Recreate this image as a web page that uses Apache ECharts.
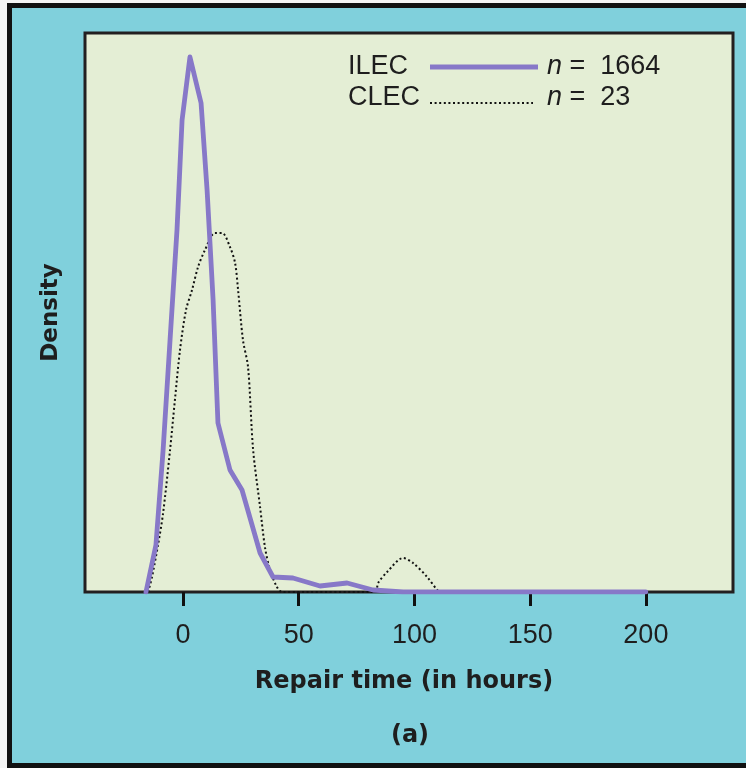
<!DOCTYPE html>
<html>
<head>
<meta charset="utf-8">
<script src="https://cdn.jsdelivr.net/npm/echarts@6/dist/echarts.min.js"></script>
<style>
  html, body { margin: 0; padding: 0; background: #f4f4f4; }
  #frame {
    position: absolute; left: 7px; top: 3px;
    width: 760px; height: 765px;
    box-sizing: border-box;
    border: 5px solid #111;
    background: #80d0dc;
  }
  #chart { position: absolute; left: 0; top: 0; width: 746px; height: 768px; }
</style>
</head>
<body>
<div id="frame"></div>
<div id="chart"></div>
<script>
// repair time (hours) vs density
const ilecHours = [-16, -11.7, -8.6, -5.6, -2.6, -0.4, 3.0, 7.8, 10.4, 13.0, 15.1, 20.3, 25.5, 33.3, 38.9, 47.5, 59.2, 70.9, 82.1, 95.1, 200]
const ilecDensity = [0, 0.0047, 0.0142, 0.0252, 0.0362, 0.0472, 0.0535, 0.0489, 0.0402, 0.0292, 0.0169, 0.0122, 0.0102, 0.0039, 0.0015, 0.0014, 0.0006, 0.0009, 0.0002, 0, 0]

const clecHours = [-15.1, -13.4, -10.8, -8.6, -5.6, -3.5, -1.3, 1.3, 3.9, 6.5, 9.5, 13.8, 16.9, 20.3, 22.5, 23.8, 25.9, 28.1, 30.3, 33.3, 35.4, 37.6, 40.6, 42.8, 83.0, 84.3, 88.2, 95.1, 99.4, 105.5, 109.8, 111.1]
const clecDensity = [0, 0.0015, 0.0047, 0.0079, 0.0142, 0.0192, 0.0242, 0.0282, 0.0302, 0.0325, 0.0342, 0.0359, 0.0359, 0.0345, 0.0329, 0.0302, 0.0252, 0.0225, 0.0142, 0.0085, 0.0045, 0.0022, 0.0005, 0, 0, 0.0009, 0.0020, 0.0034, 0.0029, 0.0015, 0.0002, 0]

const xTicks = [0, 50, 100, 150, 200]

const purple = '#8778c8'
const ink = '#1e1e1e'
const font = 'Liberation Sans, Arial, sans-serif'
const boldFont = 'DejaVu Sans, sans-serif'

const chart = echarts.init(document.getElementById('chart'))

const option = {
  animation: false,
  grid: {
    left: 85, top: 33, right: 13, bottom: 176,
    show: true,
    backgroundColor: '#e4eed5',
    borderColor: '#231f20',
    borderWidth: 3,
  },
  xAxis: {
    type: 'value',
    min: -42.35,
    max: 237.65,
    splitLine: { show: false },
    axisLine: { show: false },
    axisTick: {
      show: true, inside: false, length: 14,
      customValues: xTicks,
      lineStyle: { color: '#111', width: 3 },
    },
    axisLabel: {
      customValues: xTicks,
      margin: 30,
      color: ink,
      fontFamily: font,
      fontSize: 27,
    },
    name: 'Repair time (in hours)',
    nameLocation: 'middle',
    nameGap: 78,
    nameTextStyle: {
      color: ink, fontFamily: boldFont, fontSize: 24, fontWeight: 'bold',
      padding: [0, 10, 0, 0],
    },
  },
  yAxis: {
    type: 'value',
    min: 0,
    max: 0.0559,
    splitLine: { show: false },
    axisLine: { show: false },
    axisTick: { show: false },
    axisLabel: { show: false },
    name: 'Density',
    nameLocation: 'middle',
    nameGap: 22,
    nameTextStyle: { color: ink, fontFamily: boldFont, fontSize: 23, fontWeight: 'bold' },
  },
  series: [
    {
      name: 'CLEC',
      type: 'line',
      data: clecHours.map((h, i) => [h, clecDensity[i]]),
      smooth: 0.3,
      symbol: 'none',
      z: 2,
      lineStyle: { color: '#111', width: 2, type: [2, 2.6] },
    },
    {
      name: 'ILEC',
      type: 'line',
      data: ilecHours.map((h, i) => [h, ilecDensity[i]]),
      symbol: 'none',
      z: 3,
      lineStyle: { color: purple, width: 4.8, join: 'round', cap: 'round' },
    },
  ],
  graphic: [
    {
      type: 'text', left: 348, top: 53,
      style: { text: 'ILEC', font: '27px ' + font, fill: ink },
    },
    {
      type: 'line', shape: { x1: 430, y1: 67, x2: 538, y2: 67 },
      style: { stroke: purple, lineWidth: 5 },
    },
    {
      type: 'text', left: 547, top: 53,
      style: {
        text: '{i|n} =  1664',
        font: '27px ' + font, fill: ink,
        rich: { i: { fontStyle: 'italic', fontSize: 27, fontFamily: font } },
      },
    },
    {
      type: 'text', left: 348, top: 84,
      style: { text: 'CLEC', font: '27px ' + font, fill: ink },
    },
    {
      type: 'line', shape: { x1: 430, y1: 103, x2: 533, y2: 103 },
      style: { stroke: '#111', lineWidth: 2, lineDash: [2, 2.6] },
    },
    {
      type: 'text', left: 547, top: 84,
      style: {
        text: '{i|n} =  23',
        font: '27px ' + font, fill: ink,
        rich: { i: { fontStyle: 'italic', fontSize: 27, fontFamily: font } },
      },
    },
    {
      type: 'text', x: 410, y: 736,
      style: {
        text: '(a)', font: 'bold 24px ' + boldFont, fill: ink,
        align: 'center', verticalAlign: 'middle',
      },
    },
  ],
}

chart.setOption(option)
</script>
</body>
</html>
